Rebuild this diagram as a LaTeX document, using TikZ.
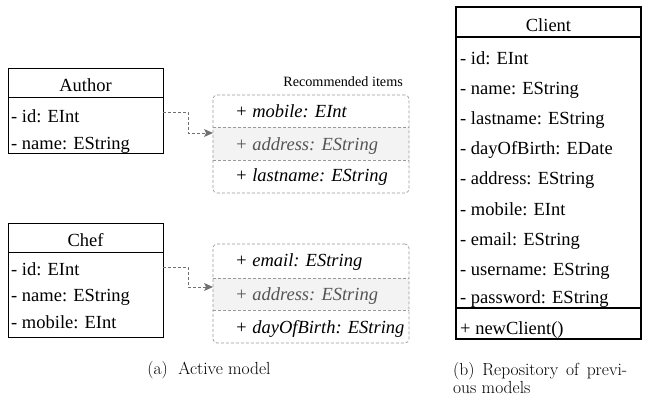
\documentclass[tikz,border=0pt]{standalone}
\usepackage{fontspec}
\setmainfont{Liberation Serif}
\newfontfamily\capfont{Latin Modern Roman}
\usetikzlibrary{arrows.meta}
\definecolor{dgray}{HTML}{9A9A9A}
\definecolor{shadefill}{HTML}{F3F3F3}
\definecolor{dtext}{HTML}{555555}
\definecolor{arrowgray}{HTML}{707070}
\begin{document}
\begin{tikzpicture}[x=1pt,y=-1pt,
  umlbox/.style={draw=black, line width=0.9pt, inner sep=0pt, outer sep=0pt, anchor=north west},
  rowtxt/.style={anchor=base west, inner sep=0pt, font=\fontsize{18.5}{20}\selectfont},
  headtxt/.style={anchor=base, inner sep=0pt, font=\fontsize{18.5}{20}\selectfont},
  rectxt/.style={anchor=base west, inner sep=0pt, font=\fontsize{18.5}{20}\selectfont\itshape},
  recbox/.style={draw=dgray, dash pattern=on 3pt off 2pt, line width=0.7pt, rounded corners=4pt, inner sep=0pt, outer sep=0pt, anchor=north west, minimum width=196pt},
  recmid/.style={fill=shadefill, draw=none, inner sep=0pt, outer sep=0pt, anchor=north west, minimum width=196pt},
  divline/.style={draw=dgray, dash pattern=on 3pt off 2pt, line width=0.7pt},
  conn/.style={draw=arrowgray, dash pattern=on 3pt off 2pt, line width=0.8pt, -{Stealth[length=9pt,width=8pt,inset=2pt,line width=0pt]}},
  captxt/.style={inner sep=0pt, font=\capfont\fontsize{17.5}{19}\selectfont}
]
\useasboundingbox (0,0) rectangle (645,398);

% Author
\node[umlbox, minimum width=155pt, minimum height=29pt] (authorH) at (8,68) {};
\node[umlbox, minimum width=155pt, minimum height=56pt] (authorB) at (8,97) {};
\node[headtxt] (authorT) at (85.5,92) {Author};
\node[rowtxt] (authorA1) at (11,123) {- id: EInt};
\node[rowtxt] (authorA2) at (11,150) {- name: EString};

% Chef
\node[umlbox, minimum width=155pt, minimum height=29pt] (chefH) at (8,223) {};
\node[umlbox, minimum width=155pt, minimum height=85pt] (chefB) at (8,252) {};
\node[headtxt] (chefT) at (85.5,246) {Chef};
\node[rowtxt] (chefA1) at (11,275) {- id: EInt};
\node[rowtxt] (chefA2) at (11,301) {- name: EString};
\node[rowtxt] (chefA3) at (11,328) {- mobile: EInt};

% Recommended 1
\node[recmid, minimum height=33pt] (rec1mid) at (213,127) {};
\node[recbox, minimum height=98pt] (rec1) at (213,95) {};
\draw[divline] (rec1mid.north west) -- (rec1mid.north east);
\draw[divline] (rec1mid.south west) -- (rec1mid.south east);
\node[anchor=base east, inner sep=0pt, font=\fontsize{14.2}{16}\selectfont] (reclabel) at (403,87) {Recommended items};
\node[rectxt] (rec1a) at (235,118) {+ mobile: EInt};
\node[rectxt, text=dtext] (rec1b) at (235,151) {+ address: EString};
\node[rectxt] (rec1c) at (235,182) {+ lastname: EString};

% Recommended 2
\node[recmid, minimum height=32pt] (rec2mid) at (213,278) {};
\node[recbox, minimum height=99pt] (rec2) at (213,244) {};
\draw[divline] (rec2mid.north west) -- (rec2mid.north east);
\draw[divline] (rec2mid.south west) -- (rec2mid.south east);
\node[rectxt] (rec2a) at (235,266) {+ email: EString};
\node[rectxt, text=dtext] (rec2b) at (235,300) {+ address: EString};
\node[rectxt] (rec2c) at (235,333) {+ dayOfBirth: EString};

% connectors
\draw[conn] ([yshift=-15pt]authorB.north east) -- ++(25,0) |- ([yshift=-6pt]rec1mid.north west);
\draw[conn] ([yshift=-15pt]chefB.north east) -- ++(25,0) |- ([yshift=-9pt]rec2mid.north west);

% Client
\node[umlbox, line width=1.1pt, minimum width=185pt, minimum height=30pt] (clientH) at (456,7) {};
\node[umlbox, line width=1.1pt, minimum width=185pt, minimum height=271pt] (clientB) at (456,37) {};
\node[umlbox, line width=1.1pt, minimum width=185pt, minimum height=31pt] (clientM) at (456,308) {};
\node[headtxt] (clientT) at (548.5,32) {Client};
\node[rowtxt] (c1) at (460,65) {- id: EInt};
\node[rowtxt] (c2) at (460,95) {- name: EString};
\node[rowtxt] (c3) at (460,125) {- lastname: EString};
\node[rowtxt] (c4) at (460,155) {- dayOfBirth: EDate};
\node[rowtxt] (c5) at (460,185) {- address: EString};
\node[rowtxt] (c6) at (460,215) {- mobile: EInt};
\node[rowtxt] (c7) at (460,245) {- email: EString};
\node[rowtxt] (c8) at (460,275) {- username: EString};
\node[rowtxt] (c9) at (460,303) {- password: EString};
\node[rowtxt] (c10) at (460,334) {+ newClient()};

% captions
\node[captxt, anchor=base] (capA) at (209,374) {(a)\hspace{0.6em}Active model};
\node[captxt, anchor=base west] (capB1) at (453,375) {\hbox to 174pt{(b)\hfill Repository\hfill of\hfill previ-}};
\node[captxt, anchor=base west] (capB2) at (453,393) {ous models};
\end{tikzpicture}
\end{document}
